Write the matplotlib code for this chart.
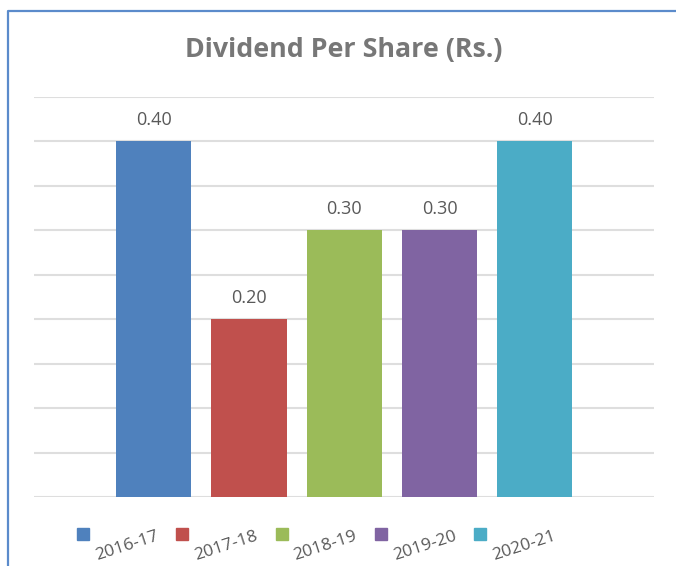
import matplotlib.pyplot as plt
from matplotlib.lines import Line2D
from matplotlib.patches import Rectangle

plt.rcParams['font.family'] = ['Open Sans', 'DejaVu Sans']

# Data
years = ['2016-17', '2017-18', '2018-19', '2019-20', '2020-21']
dividend = [0.40, 0.20, 0.30, 0.30, 0.40]
colors = ['#4F81BD', '#C0504D', '#9BBB59', '#8064A2', '#4BACC6']

W, H = 676, 566
fig = plt.figure(figsize=(W / 100, H / 100), dpi=100)
ax = fig.add_axes([34 / W, 69 / H, 620 / W, 400 / H])

x = list(range(len(years)))
bars = ax.bar(x, dividend, width=0.79, color=colors, zorder=3)

for xi, v in zip(x, dividend):
    ax.annotate(f'{v:.2f}', (xi, v), xytext=(0, 9), textcoords='offset points',
                ha='center', va='bottom', fontsize=13, color='#595959')

ax.set_xlim(-1.258, 5.253)
ax.set_ylim(0, 0.45)
ax.set_yticks([i * 0.05 for i in range(10)])
ax.yaxis.grid(True, color='#DEDEDE', linewidth=1.5, zorder=0)
ax.tick_params(left=False, bottom=False, labelleft=False, labelbottom=False)
for s in ax.spines.values():
    s.set_visible(False)

fig.text(344 / W, 1 - 50 / H, 'Dividend Per Share (Rs.)', ha='center', va='center',
         fontsize=19.3, fontweight='bold', color='#777777')

# legend, drawn by hand with slanted labels
for i, (yr, c) in enumerate(zip(years, colors)):
    cx = 83 + i * 99.3
    fig.patches.append(Rectangle(((cx - 6) / W, 1 - 540 / H), 12 / W, 12 / H,
                                 transform=fig.transFigure, color=c))
    fig.text((cx + 14) / W, 1 - 560 / H, yr, rotation=18, rotation_mode='anchor',
             ha='left', va='baseline', fontsize=12.5, color='#595959')

# chart frame (left and top edges)
fig.add_artist(Line2D([8 / W, 8 / W, 1], [0, 1 - 11 / H, 1 - 11 / H],
                      transform=fig.transFigure, color='#5B8BCB', linewidth=1.6))

fig.savefig('out.png', dpi=100)
